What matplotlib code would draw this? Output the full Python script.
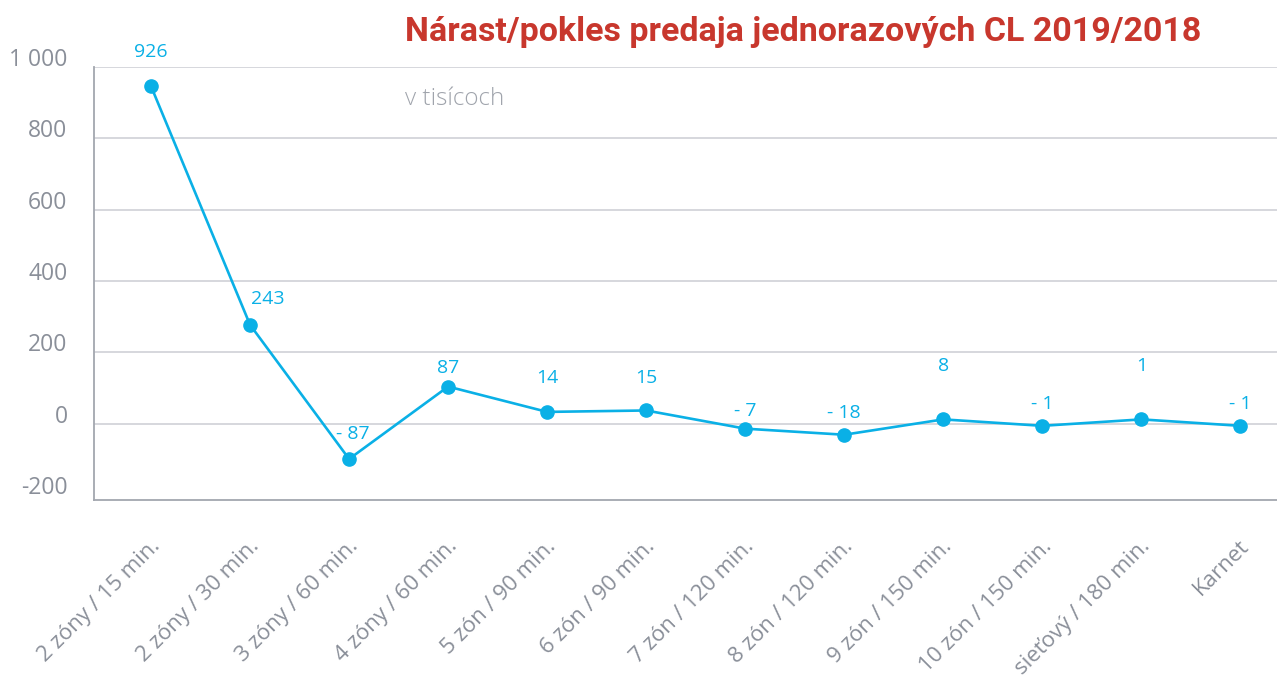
import matplotlib.pyplot as plt
import matplotlib.transforms as mtransforms
import numpy as np

# kategorie cestovnych listkov
kategorie = ["2 zóny / 15 min.", "2 zóny / 30 min.", "3 zóny / 60 min.", "4 zóny / 60 min.",
             "5 zón / 90 min.", "6 zón / 90 min.", "7 zón / 120 min.", "8 zón / 120 min.",
             "9 zón / 150 min.", "10 zón / 150 min.", "sieťový / 180 min.", "Karnet"]
# polohy bodov odcitane z grafu (v tisicoch)
hodnoty = [946, 277, -99, 104, 33, 37, -14, -31, 12, -6, 12, -6]
# popisky hodnot
popisky = ["926", "243", "- 87", "87", "14", "15", "- 7", "- 18", "8", "- 1", "1", "- 1"]
y_ticky = [-200, 0, 200, 400, 600, 800, 1000]
y_popisky = ["-200", "0", "200", "400", "600", "800", "1 000"]

# posun popiskov od bodov (v pixeloch)
posun = [(0, 34), (18, 26), (4, 25), (0, 19), (0, 34), (0, 32),
         (0, 18), (0, 22), (0, 53), (0, 22), (0, 53), (0, 22)]

modra = "#0AB0E6"
seda = "#8A8F99"
cervena = "#C8372D"

fig = plt.figure(figsize=(12.77, 6.8), dpi=100)
ax = fig.add_axes([94 / 1277, 180 / 680, 1 - 94 / 1277, 433 / 680])

x = np.arange(len(kategorie))
ax.plot(x, hodnoty, color=modra, lw=1.9, marker="o", ms=9.5, zorder=3)

for i, (h, t) in enumerate(zip(hodnoty, popisky)):
    ax.annotate(t, (x[i], h), xytext=posun[i], textcoords="offset pixels",
                ha="center", va="center", color=modra, fontsize=14, family="Open Sans")

ax.set_xlim(-0.576, 11.37)
ax.set_ylim(-214, 1000)
ax.set_yticks(y_ticky)
ax.set_yticklabels(y_popisky, fontsize=16.5, color=seda, family="Open Sans")
ax.set_xticks(x)
ax.set_xticklabels(kategorie, rotation=45, ha="right", va="center", rotation_mode="anchor",
                   fontsize=16, color=seda, family="Open Sans")
ax.tick_params(axis="both", length=0)
ax.tick_params(axis="y", pad=19)
ax.tick_params(axis="x", pad=31)

# popisky osi y trochu nad ciarou
off = mtransforms.ScaledTranslation(0, 10 / 100, fig.dpi_scale_trans)
for lab in ax.get_yticklabels():
    lab.set_transform(lab.get_transform() + off)
offx = mtransforms.ScaledTranslation(6 / 100, 0, fig.dpi_scale_trans)
for lab in ax.get_xticklabels():
    lab.set_transform(lab.get_transform() + offx)

# mriezka len od 0 vyssie
for t in y_ticky[1:]:
    ax.axhline(t, color="#D3D4DA", lw=1.3, zorder=1)
for s in ["top", "right"]:
    ax.spines[s].set_visible(False)
ax.spines["left"].set_color("#A3A7AF")
ax.spines["bottom"].set_color("#A3A7AF")
ax.spines["left"].set_linewidth(1.3)
ax.spines["bottom"].set_linewidth(1.3)

fig.text(405 / 1277, 1 - 32 / 680, "Nárast/pokles predaja jednorazových CL 2019/2018",
         color=cervena, fontsize=24.5, fontweight="bold", family=["Liberation Sans Narrow", "Roboto"],
         va="center", ha="left")
fig.text(405 / 1277, 1 - 99 / 680, "v tisícoch", color="#A0A4AC", fontsize=17.5,
         family="Open Sans", fontweight="light", va="center", ha="left")

fig.savefig("out.png", dpi=100)
